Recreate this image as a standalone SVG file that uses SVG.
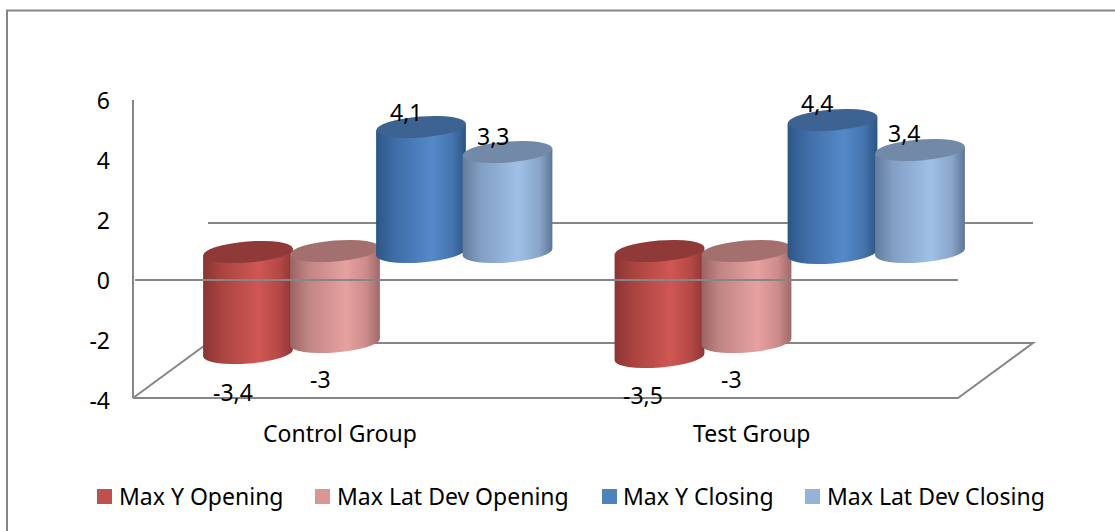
<svg xmlns="http://www.w3.org/2000/svg" width="1115" height="531" viewBox="0 0 1115 531">
<style>
text{font-family:"Noto Sans","Open Sans",sans-serif;font-size:23px;fill:#000}
.ax{text-anchor:end}
.grid{stroke:#868686;stroke-width:2;fill:none}
</style>
<defs>
<linearGradient id="gR" x1="0" x2="1" y1="0" y2="0"><stop offset="0" stop-color="#8a3533"/><stop offset="0.2" stop-color="#a9433f"/><stop offset="0.62" stop-color="#d05754"/><stop offset="0.85" stop-color="#b44845"/><stop offset="1" stop-color="#8c3634"/></linearGradient>
<linearGradient id="gP" x1="0" x2="1" y1="0" y2="0"><stop offset="0" stop-color="#9a6462"/><stop offset="0.2" stop-color="#c08583"/><stop offset="0.62" stop-color="#e6a1a0"/><stop offset="0.85" stop-color="#cc8b8a"/><stop offset="1" stop-color="#9e6a69"/></linearGradient>
<linearGradient id="gB" x1="0" x2="1" y1="0" y2="0"><stop offset="0" stop-color="#2c5686"/><stop offset="0.2" stop-color="#3e6ca6"/><stop offset="0.62" stop-color="#5589c9"/><stop offset="0.85" stop-color="#4474ae"/><stop offset="1" stop-color="#2c5583"/></linearGradient>
<linearGradient id="gL" x1="0" x2="1" y1="0" y2="0"><stop offset="0" stop-color="#627c9c"/><stop offset="0.2" stop-color="#829fc4"/><stop offset="0.62" stop-color="#a0c0e6"/><stop offset="0.85" stop-color="#8aa6ca"/><stop offset="1" stop-color="#5e7797"/></linearGradient>
</defs>
<rect x="0" y="0" width="1115" height="531" fill="#fff"/>
<rect x="7" y="10.5" width="1130" height="540" fill="none" stroke="#868686" stroke-width="2"/>

<g id="connectors">
<line class="grid" x1="208" y1="223" x2="1033" y2="223"/>
<polyline class="grid" points="133,398 208,343 1033,343 958,398 133,398"/>
<line class="grid" x1="133" y1="100" x2="133" y2="398"/>
</g>

<g id="cylinders">
<g id="c-red">
<path d="M203.1 255.5 L203.1 356.5 A45 10.5 -4.5 0 0 292.9 349.5 L292.9 248.5 Z" fill="url(#gR)"/>
<ellipse cx="248" cy="252" rx="45" ry="10.5" transform="rotate(-4.5 248 252)" fill="#8f3a38"/>
</g>
<g id="c-pink">
<path d="M290.1 254.5 L290.1 345.5 A45 10.5 -4.5 0 0 379.9 338.5 L379.9 247.5 Z" fill="url(#gP)"/>
<ellipse cx="335" cy="251" rx="45" ry="10.5" transform="rotate(-4.5 335 251)" fill="#a4706f"/>
</g>
<g id="t-red">
<path d="M614.6 254.5 L614.6 360.5 A45 10.5 -4.5 0 0 704.4 353.5 L704.4 247.5 Z" fill="url(#gR)"/>
<ellipse cx="659.5" cy="251" rx="45" ry="10.5" transform="rotate(-4.5 659.5 251)" fill="#8f3a38"/>
</g>
<g id="t-pink">
<path d="M701.6 254.5 L701.6 345.5 A45 10.5 -4.5 0 0 791.4 338.5 L791.4 247.5 Z" fill="url(#gP)"/>
<ellipse cx="746.5" cy="251" rx="45" ry="10.5" transform="rotate(-4.5 746.5 251)" fill="#a4706f"/>
</g>
</g>

<line class="grid" x1="135" y1="280" x2="958" y2="280"/>

<g id="cylinders-closing">
<g id="c-blue">
<path d="M376.1 130.5 L376.1 255.5 A45 10.5 -4.5 0 0 465.9 248.5 L465.9 123.5 Z" fill="url(#gB)"/>
<ellipse cx="421" cy="127" rx="45" ry="10.5" transform="rotate(-4.5 421 127)" fill="#3c6391"/>
</g>
<g id="c-lblue">
<path d="M462.6 155.5 L462.6 255.5 A45 10.5 -4.5 0 0 552.4 248.5 L552.4 148.5 Z" fill="url(#gL)"/>
<ellipse cx="507.5" cy="152" rx="45" ry="10.5" transform="rotate(-4.5 507.5 152)" fill="#7389a8"/>
</g>
<g id="t-blue">
<path d="M787.6 123.5 L787.6 256.5 A45 10.5 -4.5 0 0 877.4 249.5 L877.4 116.5 Z" fill="url(#gB)"/>
<ellipse cx="832.5" cy="120" rx="45" ry="10.5" transform="rotate(-4.5 832.5 120)" fill="#3c6391"/>
</g>
<g id="t-lblue">
<path d="M875.1 153.5 L875.1 255.5 A45 10.5 -4.5 0 0 964.9 248.5 L964.9 146.5 Z" fill="url(#gL)"/>
<ellipse cx="920" cy="150" rx="45" ry="10.5" transform="rotate(-4.5 920 150)" fill="#7389a8"/>
</g>
</g>

<g id="axis-labels">
<text class="ax" x="110" y="109">6</text>
<text class="ax" x="110" y="169">4</text>
<text class="ax" x="110" y="229">2</text>
<text class="ax" x="110" y="289">0</text>
<text class="ax" x="110" y="349">-2</text>
<text class="ax" x="110" y="409">-4</text>
<text x="263" y="442">Control Group</text>
<text x="693" y="442">Test Group</text>
</g>

<g id="value-labels">
<text x="390" y="121">4,1</text>
<text x="477" y="145">3,3</text>
<text x="801" y="112">4,4</text>
<text x="888" y="142">3,4</text>
<text x="213" y="401">-3,4</text>
<text x="310" y="388">-3</text>
<text x="623" y="404">-3,5</text>
<text x="721" y="388">-3</text>
</g>

<g id="legend">
<rect x="97" y="489" width="15" height="15" fill="#c0504d"/>
<text x="119" y="505">Max Y Opening</text>
<rect x="315" y="489" width="15" height="15" fill="#d99694"/>
<text x="337" y="505">Max Lat Dev Opening</text>
<rect x="602" y="489" width="15" height="15" fill="#4f81bd"/>
<text x="623" y="505">Max Y Closing</text>
<rect x="805" y="489" width="15" height="15" fill="#95b3d7"/>
<text x="827" y="505">Max Lat Dev Closing</text>
</g>
</svg>
